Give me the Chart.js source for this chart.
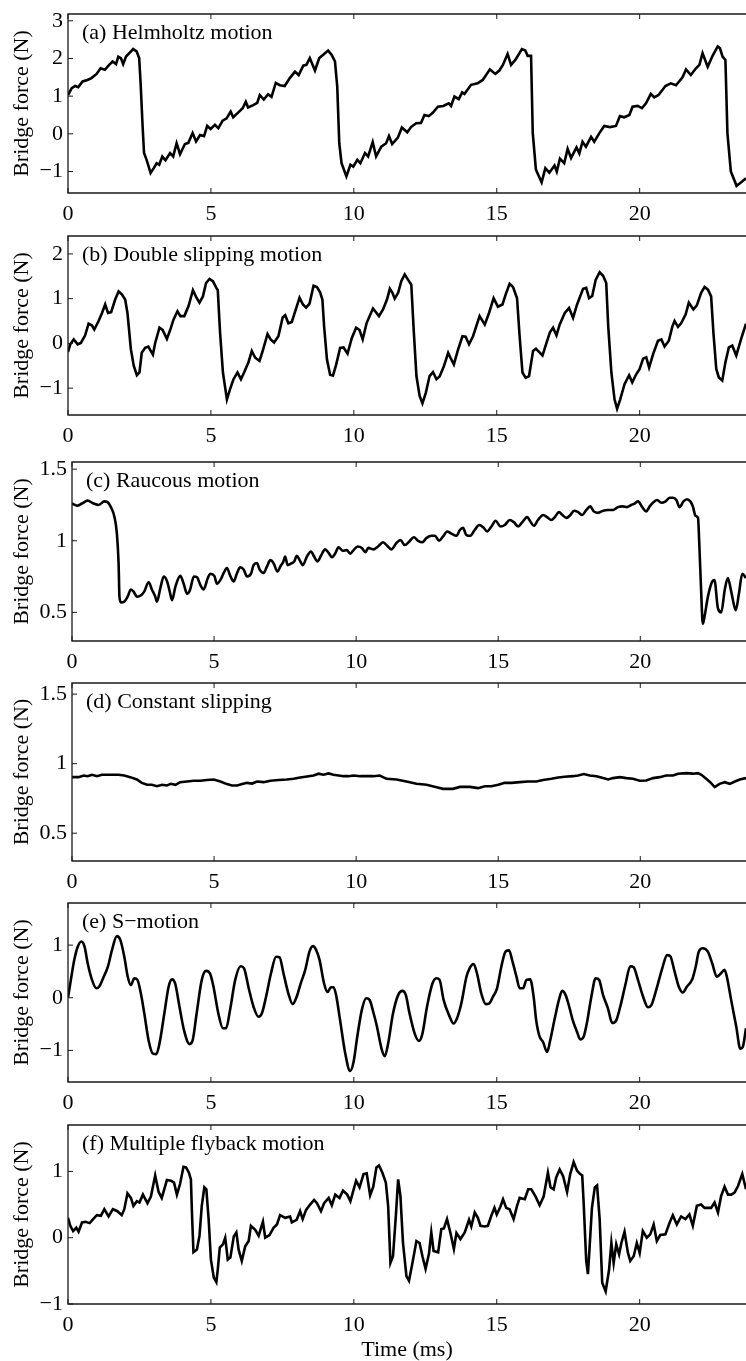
<!DOCTYPE html>
<html>
<head>
<meta charset="utf-8">
<script src="https://cdn.jsdelivr.net/npm/chart.js@4.4.0/dist/chart.umd.min.js"></script>
<style>
  body { margin: 0; background: #fff; overflow: hidden; }
  #wrap { position: relative; width: 746px; height: 1361px; }
  #wrap canvas { position: absolute; left: 0; }
</style>
</head>
<body>
<div id="wrap"></div>
<script>
// Bridge force vs time, six bowed-string regimes. [time (ms), force (N)]

const xTicks = [0, 5, 10, 15, 20];

const helmholtz = [
  [0, 1.03], [0.13, 1.21], [0.25, 1.27], [0.36, 1.24], [0.51, 1.39], [0.68, 1.43], [0.82, 1.48], [1.0, 1.59],
  [1.14, 1.74], [1.29, 1.70], [1.44, 1.83], [1.56, 1.92], [1.68, 1.85], [1.76, 2.05], [1.85, 2.01], [1.93, 1.85],
  [2.03, 2.05], [2.17, 2.16], [2.28, 2.25], [2.4, 2.19], [2.49, 2.01], [2.54, 1.35], [2.61, 0.2], [2.66, -0.51],
  [2.75, -0.69], [2.89, -1.04], [3.0, -0.91], [3.1, -0.78], [3.19, -0.82], [3.3, -0.6], [3.41, -0.7], [3.57, -0.51],
  [3.68, -0.6], [3.8, -0.25], [3.92, -0.54], [4.09, -0.27], [4.21, -0.24], [4.36, 0.02], [4.48, -0.2], [4.62, -0.03],
  [4.76, -0.06], [4.87, 0.21], [4.99, 0.13], [5.14, 0.24], [5.26, 0.15], [5.41, 0.35], [5.55, 0.41], [5.69, 0.59],
  [5.78, 0.44], [5.96, 0.57], [6.11, 0.68], [6.22, 0.85], [6.3, 0.7], [6.48, 0.76], [6.62, 0.82], [6.71, 1.03],
  [6.85, 0.91], [7.0, 1.05], [7.12, 0.98], [7.27, 1.35], [7.41, 1.29], [7.58, 1.27], [7.76, 1.48], [7.94, 1.65],
  [8.07, 1.56], [8.23, 1.81], [8.34, 1.83], [8.46, 2.01], [8.64, 1.68], [8.79, 2.01], [8.93, 2.1], [9.1, 2.21],
  [9.22, 2.1], [9.34, 1.92], [9.42, 1.25], [9.49, -0.25], [9.57, -0.78], [9.74, -1.13], [9.88, -0.82], [9.98, -0.87],
  [10.12, -0.69], [10.23, -0.78], [10.39, -0.51], [10.5, -0.6], [10.66, -0.22], [10.78, -0.6], [10.96, -0.34],
  [11.13, -0.25], [11.23, -0.06], [11.34, -0.27], [11.54, -0.1], [11.68, 0.17], [11.87, 0.04], [12.0, 0.18],
  [12.18, 0.28], [12.35, 0.29], [12.47, 0.5], [12.62, 0.47], [12.76, 0.56], [12.94, 0.72], [13.13, 0.74],
  [13.32, 0.81], [13.4, 0.74], [13.52, 0.99], [13.67, 0.92], [13.79, 1.1], [13.87, 1.06], [14.1, 1.3], [14.33, 1.34],
  [14.51, 1.43], [14.76, 1.71], [14.95, 1.59], [15.09, 1.68], [15.21, 1.82], [15.38, 2.12], [15.5, 1.83],
  [15.65, 1.96], [15.88, 2.25], [16.0, 2.21], [16.08, 2.07], [16.2, 2.07], [16.26, 0.02], [16.37, -0.95],
  [16.57, -1.29], [16.7, -0.91], [16.84, -1.03], [17.02, -0.84], [17.1, -1.0], [17.21, -0.66], [17.36, -0.78],
  [17.48, -0.4], [17.6, -0.64], [17.79, -0.36], [17.89, -0.52], [18.0, -0.21], [18.12, -0.34], [18.3, -0.08],
  [18.41, -0.21], [18.59, 0.02], [18.76, 0.21], [18.96, 0.18], [19.17, 0.21], [19.31, 0.47], [19.46, 0.44],
  [19.64, 0.5], [19.75, 0.72], [19.93, 0.74], [20.08, 0.68], [20.22, 0.81], [20.39, 1.06], [20.51, 0.97],
  [20.66, 1.03], [20.9, 1.27], [21.09, 1.34], [21.27, 1.29], [21.5, 1.5], [21.62, 1.71], [21.79, 1.56],
  [21.97, 1.74], [22.09, 1.83], [22.2, 2.14], [22.38, 1.78], [22.55, 2.07], [22.73, 2.32], [22.81, 2.27],
  [22.9, 2.05], [23.0, 1.96], [23.07, 0.02], [23.19, -1.0], [23.39, -1.38], [23.54, -1.29], [23.72, -1.18]
];

const doubleSlip = [
  [0, -0.19], [0.08, -0.02], [0.2, 0.09], [0.34, -0.02], [0.45, 0.01], [0.6, 0.18], [0.72, 0.44], [0.84, 0.4],
  [0.92, 0.31], [1.07, 0.5], [1.19, 0.68], [1.3, 0.87], [1.4, 0.68], [1.51, 0.7], [1.65, 0.98], [1.77, 1.16],
  [1.89, 1.09], [2.0, 0.98], [2.08, 0.68], [2.2, -0.13], [2.3, -0.5], [2.41, -0.71], [2.5, -0.65], [2.58, -0.21],
  [2.7, -0.1], [2.81, -0.07], [2.97, -0.25], [3.05, 0.01], [3.2, 0.35], [3.31, 0.3], [3.46, 0.1], [3.58, 0.31],
  [3.69, 0.53], [3.83, 0.72], [3.93, 0.61], [4.07, 0.61], [4.22, 0.84], [4.37, 1.19], [4.48, 1.04], [4.6, 0.91],
  [4.72, 1.05], [4.83, 1.35], [4.95, 1.44], [5.07, 1.39], [5.19, 1.24], [5.24, 1.19], [5.32, 0.24], [5.42, -0.65],
  [5.56, -1.25], [5.67, -1.02], [5.79, -0.8], [5.93, -0.65], [6.05, -0.8], [6.16, -0.65], [6.31, -0.43],
  [6.43, -0.17], [6.55, -0.32], [6.7, -0.39], [6.81, -0.17], [6.98, 0.21], [7.09, 0.09], [7.21, 0.02], [7.36, 0.16],
  [7.51, 0.58], [7.6, 0.63], [7.71, 0.45], [7.83, 0.48], [7.97, 0.76], [8.1, 1.02], [8.22, 0.87], [8.33, 0.8],
  [8.45, 0.89], [8.59, 1.29], [8.71, 1.26], [8.82, 1.14], [8.9, 0.98], [8.96, 0.38], [9.06, -0.36], [9.17, -0.7],
  [9.27, -0.72], [9.38, -0.48], [9.52, -0.1], [9.64, -0.09], [9.78, -0.23], [9.93, 0.12], [10.08, 0.35], [10.2, 0.3],
  [10.31, 0.09], [10.45, 0.46], [10.67, 0.78], [10.88, 0.61], [11.02, 0.76], [11.16, 0.98], [11.26, 1.22],
  [11.35, 1.13], [11.43, 1.0], [11.55, 1.13], [11.66, 1.39], [11.78, 1.54], [11.9, 1.42], [12.01, 1.31],
  [12.1, 0.24], [12.19, -0.73], [12.3, -1.17], [12.4, -1.34], [12.52, -1.1], [12.65, -0.73], [12.77, -0.64],
  [12.89, -0.8], [13.0, -0.74], [13.15, -0.51], [13.3, -0.21], [13.38, -0.32], [13.5, -0.47], [13.65, -0.13],
  [13.8, 0.16], [13.91, 0.15], [14.03, -0.02], [14.17, 0.16], [14.4, 0.61], [14.58, 0.42], [14.73, 0.68],
  [14.89, 1.01], [15.04, 0.82], [15.2, 0.87], [15.31, 1.09], [15.45, 1.33], [15.57, 1.26], [15.71, 1.01],
  [15.8, 0.16], [15.9, -0.65], [16.01, -0.77], [16.13, -0.73], [16.27, -0.17], [16.37, -0.12], [16.48, -0.19],
  [16.6, -0.27], [16.74, 0.01], [16.86, 0.25], [16.97, 0.35], [17.09, 0.18], [17.2, 0.42], [17.38, 0.68],
  [17.53, 0.79], [17.67, 0.57], [17.81, 0.87], [18.02, 1.22], [18.13, 1.24], [18.23, 1.01], [18.34, 1.06],
  [18.46, 1.42], [18.6, 1.59], [18.72, 1.51], [18.83, 1.35], [18.9, 0.38], [19.01, -0.65], [19.12, -1.25],
  [19.21, -1.46], [19.32, -1.25], [19.47, -0.91], [19.63, -0.71], [19.74, -0.87], [19.88, -0.69], [20.0, -0.57],
  [20.12, -0.34], [20.23, -0.31], [20.33, -0.54], [20.47, -0.24], [20.64, 0.06], [20.76, 0.09], [20.87, -0.07],
  [21.02, 0.06], [21.14, 0.37], [21.22, 0.5], [21.34, 0.37], [21.45, 0.45], [21.61, 0.65], [21.72, 0.91],
  [21.88, 0.76], [22.0, 0.85], [22.15, 1.13], [22.27, 1.26], [22.39, 1.2], [22.5, 1.05], [22.58, 0.24],
  [22.68, -0.57], [22.77, -0.76], [22.89, -0.83], [23.0, -0.42], [23.12, -0.09], [23.24, -0.05], [23.38, -0.27],
  [23.55, 0.1], [23.72, 0.44]
];

const raucous = [
  [0, 1.26], [0.18, 1.245], [0.35, 1.26], [0.55, 1.28], [0.76, 1.26], [0.94, 1.25], [1.14, 1.275], [1.25, 1.27],
  [1.38, 1.23], [1.49, 1.17], [1.58, 1.05], [1.64, 0.84], [1.67, 0.61], [1.72, 0.57], [1.84, 0.575], [1.96, 0.61],
  [2.07, 0.66], [2.17, 0.645], [2.28, 0.61], [2.43, 0.62], [2.54, 0.645], [2.7, 0.71], [2.81, 0.66], [2.93, 0.61],
  [2.99, 0.575], [3.11, 0.67], [3.23, 0.75], [3.34, 0.72], [3.44, 0.645], [3.52, 0.585], [3.64, 0.68], [3.81, 0.755],
  [3.93, 0.7], [4.05, 0.63], [4.15, 0.655], [4.29, 0.75], [4.4, 0.745], [4.52, 0.69], [4.63, 0.66], [4.78, 0.74],
  [4.87, 0.77], [5.01, 0.755], [5.1, 0.7], [5.22, 0.725], [5.34, 0.775], [5.45, 0.81], [5.57, 0.755], [5.69, 0.715],
  [5.8, 0.77], [5.92, 0.815], [6.04, 0.8], [6.16, 0.75], [6.3, 0.77], [6.39, 0.83], [6.51, 0.845], [6.6, 0.8],
  [6.74, 0.775], [6.86, 0.82], [6.98, 0.865], [7.09, 0.845], [7.23, 0.785], [7.33, 0.82], [7.44, 0.855], [7.5, 0.89],
  [7.59, 0.83], [7.7, 0.84], [7.82, 0.855], [7.91, 0.895], [8.01, 0.865], [8.12, 0.83], [8.27, 0.89], [8.41, 0.925],
  [8.52, 0.89], [8.64, 0.855], [8.76, 0.895], [8.91, 0.94], [9.03, 0.915], [9.15, 0.885], [9.26, 0.91],
  [9.38, 0.955], [9.53, 0.93], [9.67, 0.935], [9.79, 0.91], [9.91, 0.935], [10.05, 0.96], [10.2, 0.95],
  [10.32, 0.92], [10.43, 0.95], [10.6, 0.94], [10.77, 0.96], [10.95, 0.99], [11.09, 0.965], [11.24, 0.94],
  [11.42, 0.985], [11.56, 1.005], [11.71, 0.97], [11.87, 0.995], [12.03, 1.025], [12.18, 1.0], [12.33, 0.99],
  [12.48, 1.02], [12.65, 1.035], [12.77, 1.035], [12.92, 1.0], [13.06, 1.03], [13.2, 1.065], [13.35, 1.05],
  [13.53, 1.035], [13.65, 1.075], [13.76, 1.09], [13.88, 1.04], [14.02, 1.035], [14.17, 1.075], [14.33, 1.11],
  [14.47, 1.095], [14.61, 1.065], [14.76, 1.1], [14.91, 1.14], [15.08, 1.1], [15.23, 1.11], [15.41, 1.145],
  [15.55, 1.13], [15.7, 1.1], [15.85, 1.13], [16.02, 1.165], [16.13, 1.135], [16.25, 1.105], [16.4, 1.145],
  [16.58, 1.18], [16.72, 1.165], [16.87, 1.145], [16.99, 1.165], [17.14, 1.2], [17.26, 1.18], [17.4, 1.16],
  [17.54, 1.18], [17.67, 1.21], [17.81, 1.2], [17.96, 1.18], [18.1, 1.215], [18.24, 1.24], [18.36, 1.205],
  [18.51, 1.195], [18.69, 1.21], [18.86, 1.215], [19.04, 1.215], [19.21, 1.235], [19.39, 1.24], [19.53, 1.235],
  [19.68, 1.25], [19.8, 1.26], [19.92, 1.275], [20.07, 1.235], [20.21, 1.205], [20.33, 1.24], [20.47, 1.27],
  [20.59, 1.285], [20.74, 1.265], [20.89, 1.275], [21.04, 1.3], [21.15, 1.3], [21.27, 1.285], [21.38, 1.235],
  [21.52, 1.275], [21.64, 1.29], [21.76, 1.275], [21.85, 1.24], [21.94, 1.175], [22.03, 1.16], [22.08, 0.96],
  [22.14, 0.655], [22.2, 0.42], [22.26, 0.47], [22.38, 0.61], [22.53, 0.715], [22.61, 0.725], [22.73, 0.53],
  [22.85, 0.5], [22.97, 0.655], [23.08, 0.74], [23.2, 0.645], [23.36, 0.515], [23.47, 0.63], [23.59, 0.77],
  [23.72, 0.74]
];

const constSlip = [
  [0, 0.903], [0.23, 0.903], [0.41, 0.915], [0.55, 0.91], [0.7, 0.92], [0.88, 0.91], [1.05, 0.92], [1.35, 0.92],
  [1.64, 0.92], [1.84, 0.915], [2.05, 0.903], [2.28, 0.886], [2.46, 0.862], [2.64, 0.848], [2.81, 0.848],
  [2.99, 0.838], [3.17, 0.848], [3.34, 0.843], [3.48, 0.855], [3.64, 0.848], [3.81, 0.867], [4.05, 0.872],
  [4.28, 0.877], [4.52, 0.877], [4.75, 0.882], [4.99, 0.886], [5.22, 0.872], [5.45, 0.853], [5.63, 0.843],
  [5.81, 0.843], [5.99, 0.853], [6.16, 0.862], [6.34, 0.857], [6.51, 0.872], [6.74, 0.867], [6.98, 0.877],
  [7.27, 0.882], [7.56, 0.886], [7.8, 0.891], [8.03, 0.901], [8.27, 0.908], [8.5, 0.915], [8.68, 0.928],
  [8.85, 0.92], [9.03, 0.93], [9.2, 0.92], [9.38, 0.915], [9.56, 0.91], [9.73, 0.91], [9.91, 0.915], [10.15, 0.91],
  [10.38, 0.91], [10.6, 0.91], [10.83, 0.915], [11.07, 0.891], [11.42, 0.886], [11.77, 0.872], [12.12, 0.855],
  [12.48, 0.848], [12.83, 0.831], [13.06, 0.819], [13.41, 0.819], [13.65, 0.833], [14.0, 0.833], [14.29, 0.824],
  [14.53, 0.838], [14.76, 0.838], [15.0, 0.848], [15.23, 0.862], [15.46, 0.862], [15.76, 0.867], [16.05, 0.872],
  [16.34, 0.872], [16.58, 0.882], [16.87, 0.891], [17.11, 0.901], [17.34, 0.906], [17.63, 0.91], [17.81, 0.915],
  [18.01, 0.925], [18.22, 0.915], [18.46, 0.91], [18.69, 0.896], [18.87, 0.886], [19.04, 0.896], [19.28, 0.903],
  [19.51, 0.896], [19.74, 0.891], [19.98, 0.877], [20.21, 0.879], [20.45, 0.896], [20.68, 0.903], [20.91, 0.915],
  [21.15, 0.915], [21.33, 0.928], [21.62, 0.932], [21.85, 0.928], [22.03, 0.932], [22.15, 0.92], [22.32, 0.891],
  [22.46, 0.867], [22.62, 0.831], [22.79, 0.855], [22.97, 0.867], [23.15, 0.855], [23.33, 0.872], [23.5, 0.886],
  [23.72, 0.896]
];

const sMotion = [
  [0, 0.0], [0.1, 0.34], [0.22, 0.72], [0.34, 0.97], [0.47, 1.07], [0.58, 0.97], [0.69, 0.65], [0.84, 0.34],
  [0.99, 0.18], [1.1, 0.22], [1.25, 0.4], [1.39, 0.58], [1.54, 0.91], [1.71, 1.17], [1.83, 1.1], [1.97, 0.78],
  [2.09, 0.4], [2.2, 0.24], [2.32, 0.37], [2.43, 0.34], [2.55, 0.08], [2.67, -0.3], [2.82, -0.81], [2.97, -1.06],
  [3.09, -1.07], [3.2, -0.87], [3.37, -0.3], [3.52, 0.21], [3.64, 0.35], [3.75, 0.27], [3.9, -0.17], [4.06, -0.62],
  [4.25, -0.88], [4.36, -0.81], [4.5, -0.3], [4.68, 0.34], [4.83, 0.51], [4.97, 0.46], [5.09, 0.21], [5.26, -0.3],
  [5.42, -0.58], [5.53, -0.58], [5.67, -0.23], [5.85, 0.34], [6.04, 0.6], [6.16, 0.56], [6.31, 0.21], [6.49, -0.17],
  [6.66, -0.36], [6.78, -0.3], [6.93, 0.02], [7.1, 0.46], [7.28, 0.78], [7.4, 0.77], [7.54, 0.46], [7.71, 0.08],
  [7.86, -0.12], [8.0, 0.02], [8.14, 0.27], [8.3, 0.53], [8.45, 0.88], [8.57, 0.98], [8.68, 0.91], [8.8, 0.72],
  [8.96, 0.27], [9.08, 0.11], [9.2, 0.2], [9.29, 0.2], [9.38, 0.05], [9.52, -0.43], [9.7, -1.06], [9.87, -1.39],
  [9.99, -1.22], [10.12, -0.74], [10.28, -0.23], [10.43, -0.01], [10.55, -0.04], [10.68, -0.27], [10.81, -0.55],
  [10.97, -0.97], [11.08, -1.11], [11.2, -0.87], [11.37, -0.3], [11.55, 0.05], [11.7, 0.13], [11.82, 0.05],
  [11.95, -0.3], [12.13, -0.68], [12.28, -0.82], [12.4, -0.68], [12.56, -0.17], [12.75, 0.27], [12.89, 0.37],
  [13.0, 0.34], [13.14, -0.04], [13.33, -0.33], [13.49, -0.49], [13.61, -0.39], [13.76, -0.11], [13.94, 0.4],
  [14.05, 0.56], [14.19, 0.64], [14.31, 0.46], [14.46, 0.08], [14.62, -0.12], [14.73, -0.11], [14.87, 0.02],
  [15.01, 0.18], [15.16, 0.59], [15.31, 0.88], [15.43, 0.9], [15.55, 0.69], [15.69, 0.4], [15.8, 0.18],
  [15.92, 0.18], [16.04, 0.34], [16.17, 0.35], [16.29, 0.02], [16.38, -0.43], [16.5, -0.74], [16.62, -0.84],
  [16.76, -1.03], [16.87, -0.81], [17.03, -0.39], [17.18, -0.03], [17.29, 0.13], [17.41, 0.05], [17.55, -0.2],
  [17.66, -0.43], [17.81, -0.65], [17.92, -0.79], [18.04, -0.74], [18.15, -0.49], [18.31, 0.02], [18.46, 0.37],
  [18.58, 0.34], [18.72, 0.05], [18.89, -0.2], [19.04, -0.48], [19.18, -0.43], [19.32, -0.17], [19.51, 0.27],
  [19.67, 0.6], [19.79, 0.58], [19.94, 0.34], [20.12, 0.02], [20.29, -0.18], [20.41, -0.14], [20.58, 0.15],
  [20.79, 0.56], [20.96, 0.81], [21.07, 0.79], [21.22, 0.5], [21.37, 0.21], [21.51, 0.1], [21.65, 0.21],
  [21.84, 0.35], [21.96, 0.59], [22.07, 0.88], [22.21, 0.94], [22.38, 0.88], [22.54, 0.65], [22.7, 0.4],
  [22.82, 0.45], [22.97, 0.53], [23.05, 0.4], [23.2, -0.04], [23.38, -0.55], [23.52, -0.97], [23.61, -0.93],
  [23.72, -0.58]
];

const flyback = [
  [0, 0.3], [0.08, 0.18], [0.18, 0.1], [0.29, 0.15], [0.37, 0.09], [0.49, 0.23], [0.61, 0.24], [0.76, 0.22],
  [0.88, 0.28], [1.01, 0.34], [1.15, 0.33], [1.27, 0.43], [1.42, 0.32], [1.57, 0.43], [1.73, 0.4], [1.88, 0.34],
  [1.97, 0.43], [2.08, 0.67], [2.2, 0.6], [2.29, 0.48], [2.41, 0.55], [2.5, 0.53], [2.62, 0.65], [2.78, 0.52],
  [2.9, 0.62], [3.05, 0.94], [3.17, 0.69], [3.28, 0.6], [3.46, 0.87], [3.6, 0.86], [3.71, 0.83], [3.81, 0.65],
  [3.92, 0.81], [4.04, 1.07], [4.13, 1.06], [4.23, 0.98], [4.3, 0.88], [4.34, 0.33], [4.39, -0.22], [4.51, -0.18],
  [4.6, 0.03], [4.68, 0.48], [4.77, 0.76], [4.84, 0.73], [4.92, 0.28], [5.0, -0.33], [5.1, -0.6], [5.19, -0.67],
  [5.24, -0.48], [5.31, -0.15], [5.42, -0.1], [5.5, 0.0], [5.59, -0.33], [5.68, -0.3], [5.8, 0.02], [5.89, 0.08],
  [5.97, -0.18], [6.08, -0.35], [6.2, -0.13], [6.32, -0.05], [6.4, 0.18], [6.55, 0.12], [6.67, 0.03], [6.82, 0.24],
  [6.9, 0.0], [7.05, 0.04], [7.19, 0.15], [7.31, 0.2], [7.42, 0.34], [7.6, 0.3], [7.77, 0.32], [7.83, 0.23],
  [8.0, 0.27], [8.12, 0.4], [8.21, 0.28], [8.33, 0.42], [8.47, 0.5], [8.61, 0.57], [8.71, 0.52], [8.85, 0.4],
  [8.96, 0.52], [9.12, 0.6], [9.23, 0.49], [9.35, 0.65], [9.5, 0.6], [9.62, 0.71], [9.77, 0.65], [9.88, 0.55],
  [9.97, 0.69], [10.08, 0.86], [10.2, 0.76], [10.34, 0.96], [10.45, 0.97], [10.57, 0.64], [10.68, 0.77],
  [10.79, 1.06], [10.88, 1.09], [11.0, 0.98], [11.12, 0.83], [11.2, 0.48], [11.28, -0.38], [11.37, -0.28],
  [11.47, 0.33], [11.55, 0.88], [11.63, 0.63], [11.72, -0.08], [11.84, -0.58], [11.93, -0.65], [12.05, -0.38],
  [12.19, -0.05], [12.3, -0.08], [12.4, -0.28], [12.51, -0.47], [12.63, -0.24], [12.71, 0.08], [12.79, -0.2],
  [12.95, -0.22], [13.06, 0.13], [13.15, 0.14], [13.26, 0.28], [13.38, 0.07], [13.5, -0.17], [13.59, 0.07],
  [13.73, -0.02], [13.88, 0.08], [14.03, 0.27], [14.11, 0.17], [14.23, 0.38], [14.34, 0.3], [14.43, 0.18],
  [14.58, 0.17], [14.69, 0.18], [14.81, 0.33], [14.92, 0.45], [15.0, 0.35], [15.13, 0.47], [15.22, 0.58],
  [15.33, 0.45], [15.45, 0.43], [15.59, 0.28], [15.71, 0.48], [15.8, 0.6], [15.98, 0.58], [16.1, 0.73],
  [16.21, 0.73], [16.36, 0.62], [16.5, 0.49], [16.64, 0.62], [16.79, 0.98], [16.88, 0.76], [16.99, 0.73],
  [17.08, 0.91], [17.2, 1.03], [17.32, 0.93], [17.46, 0.69], [17.57, 0.96], [17.69, 1.14], [17.81, 1.01],
  [17.92, 0.96], [17.99, 0.94], [18.04, 0.53], [18.13, -0.35], [18.19, -0.55], [18.25, -0.13], [18.33, 0.45],
  [18.43, 0.76], [18.51, 0.79], [18.6, 0.28], [18.69, -0.68], [18.81, -0.81], [18.93, -0.48], [19.01, -0.08],
  [19.09, -0.38], [19.18, -0.1], [19.28, -0.25], [19.36, -0.08], [19.47, 0.09], [19.59, -0.23], [19.67, -0.35],
  [19.79, -0.28], [19.9, -0.08], [20.0, -0.23], [20.11, 0.1], [20.25, 0.0], [20.37, 0.05], [20.49, 0.2],
  [20.6, -0.05], [20.72, 0.04], [20.9, 0.05], [21.05, 0.23], [21.16, 0.34], [21.3, 0.2], [21.45, 0.32],
  [21.6, 0.28], [21.74, 0.35], [21.86, 0.18], [22.0, 0.48], [22.15, 0.5], [22.27, 0.45], [22.5, 0.45],
  [22.62, 0.53], [22.74, 0.38], [22.85, 0.63], [22.97, 0.77], [23.09, 0.65], [23.2, 0.65], [23.32, 0.68],
  [23.44, 0.78], [23.59, 0.96], [23.72, 0.73]
];

const panelTitles = [
  '(a) Helmholtz motion',
  '(b) Double slipping motion',
  '(c) Raucous motion',
  '(d) Constant slipping',
  '(e) S\u2212motion',
  '(f) Multiple flyback motion'
];
const series = [helmholtz, doubleSlip, raucous, constSlip, sMotion, flyback];
const yMins = [-1.57, -1.6, 0.3, 0.3, -1.6, -1];
const yMaxs = [3.18, 2.4, 1.55, 1.58, 1.8, 1.7];
const yTickVals = [
  [-1, 0, 1, 2, 3],
  [-1, 0, 1, 2],
  [0.5, 1, 1.5],
  [0.5, 1, 1.5],
  [-1, 0, 1],
  [-1, 0, 1]
];

// layout (px): plot box top/bottom/left per panel
const boxTop = [14, 236, 462, 683, 903, 1125];
const boxBottom = [193, 415, 641, 861, 1082, 1304];
const boxLeft = [68, 68, 72, 72, 68, 68];
const smoothPanels = [2, 4]; // raucous and S-motion traces are smooth
const PAD_TOP = 12;
const X_MAX = 23.72;
const FONT = '"Liberation Serif", "Times New Roman", serif';

Chart.defaults.font.family = FONT;
Chart.defaults.font.size = 22;
Chart.defaults.color = '#000';

const framePlugin = {
  id: 'frame',
  afterDatasetsDraw(chart, args, opts) {
    const { ctx, chartArea: a } = chart;
    const xs = chart.scales.x, ys = chart.scales.y;
    ctx.save();
    ctx.strokeStyle = '#1a1a1a';
    ctx.lineWidth = 1.3;
    ctx.beginPath();
    ctx.moveTo(a.right + 2, a.top);
    ctx.lineTo(a.left, a.top);
    ctx.lineTo(a.left, a.bottom);
    ctx.lineTo(a.right + 2, a.bottom);
    ctx.stroke();

    // inward tick marks
    ctx.lineWidth = 1;
    ctx.beginPath();
    xs.ticks.forEach(t => {
      const px = xs.getPixelForValue(t.value);
      ctx.moveTo(px, a.bottom); ctx.lineTo(px, a.bottom - 5);
      ctx.moveTo(px, a.top); ctx.lineTo(px, a.top + 5);
    });
    ys.ticks.forEach(t => {
      const py = ys.getPixelForValue(t.value);
      ctx.moveTo(a.left, py); ctx.lineTo(a.left + 5, py);
    });
    ctx.stroke();

    ctx.fillStyle = '#000';
    ctx.font = '22px ' + FONT;
    ctx.textBaseline = 'middle';
    ctx.textAlign = 'left';
    ctx.fillText(opts.text, a.left + 14, a.top + 19);
    ctx.restore();
  }
};

const wrap = document.getElementById('wrap');

series.forEach((pts, i) => {
  const last = i === series.length - 1;
  const plotH = boxBottom[i] - boxTop[i];
  const canvasTop = boxTop[i] - PAD_TOP;
  const canvasH = last ? 1361 - canvasTop : 222;

  const canvas = document.createElement('canvas');
  canvas.width = 746;
  canvas.height = canvasH;
  canvas.style.top = canvasTop + 'px';
  canvas.style.width = '746px';
  canvas.style.height = canvasH + 'px';
  wrap.appendChild(canvas);

  const ticksY = yTickVals[i];
  const smooth = smoothPanels.includes(i);

  new Chart(canvas, {
    type: 'line',
    data: {
      datasets: [{
        data: pts.map(p => ({ x: p[0], y: p[1] })),
        borderColor: '#000',
        borderWidth: 2.6,
        pointRadius: 0,
        cubicInterpolationMode: smooth ? 'monotone' : 'default',
        tension: smooth ? 0.4 : 0,
        fill: false
      }]
    },
    options: {
      responsive: false,
      animation: false,
      events: [],
      layout: { padding: { top: PAD_TOP, right: 0, bottom: 0, left: 0 } },
      plugins: {
        legend: { display: false },
        tooltip: { enabled: false },
        frame: { text: panelTitles[i] }
      },
      scales: {
        x: {
          type: 'linear',
          min: 0,
          max: X_MAX,
          afterBuildTicks: s => { s.ticks = xTicks.map(v => ({ value: v })); },
          afterFit: s => {
            s.height = canvasH - PAD_TOP - plotH;
            s.paddingLeft = 0;
            s.paddingRight = 0;
          },
          grid: { display: false, drawTicks: false },
          border: { display: false },
          ticks: { padding: 8, maxRotation: 0, autoSkip: false, color: '#000' },
          title: {
            display: last,
            text: 'Time (ms)',
            padding: { top: 0, bottom: -2 },
            color: '#000'
          }
        },
        y: {
          type: 'linear',
          min: yMins[i],
          max: yMaxs[i],
          afterBuildTicks: s => { s.ticks = ticksY.map(v => ({ value: v })); },
          afterFit: s => {
            s.width = boxLeft[i];
            s.paddingTop = 0;
            s.paddingBottom = 0;
          },
          grid: { display: false, drawTicks: false },
          border: { display: false },
          ticks: {
            padding: 5,
            autoSkip: false,
            color: '#000',
            callback: v => String(v).replace('-', '\u2212')
          },
          title: {
            display: true,
            text: 'Bridge force (N)',
            padding: { top: 9, bottom: 0 },
            color: '#000'
          }
        }
      }
    },
    plugins: [framePlugin]
  });
});
</script>
</body>
</html>
